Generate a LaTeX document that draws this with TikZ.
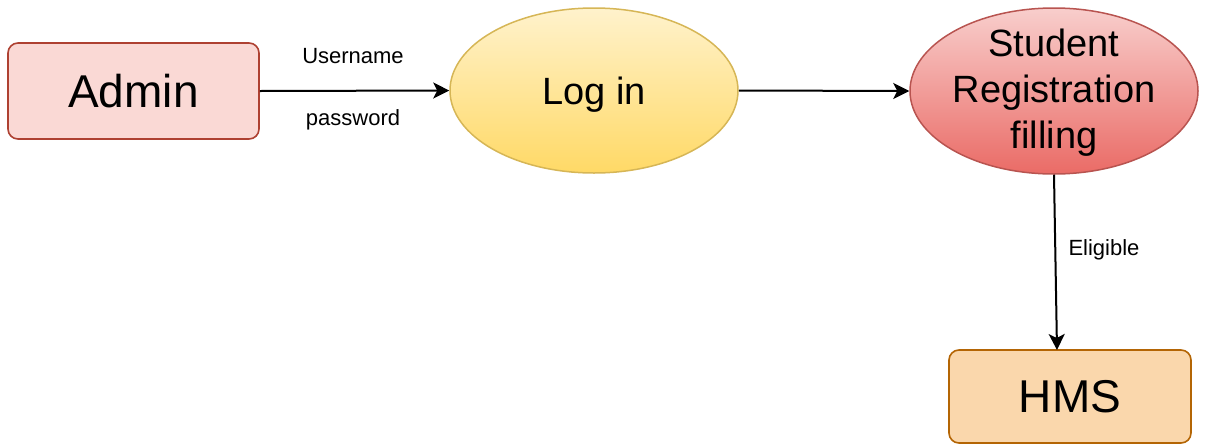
\documentclass[tikz,border=0pt]{standalone}
\usepackage{fontspec}
\setmainfont{Liberation Sans}
\usetikzlibrary{shapes.geometric,arrows.meta}
\definecolor{adminfill}{HTML}{FAD9D5}
\definecolor{adminline}{HTML}{AE4132}
\definecolor{loginTop}{HTML}{FFF2CC}
\definecolor{loginBot}{HTML}{FFD966}
\definecolor{loginline}{HTML}{D6B656}
\definecolor{regTop}{HTML}{F8CECC}
\definecolor{regBot}{HTML}{EA6B66}
\definecolor{regline}{HTML}{B85450}
\definecolor{hmsfill}{HTML}{FAD7AC}
\definecolor{hmsline}{HTML}{B46504}
\begin{document}
\begin{tikzpicture}[x=1pt,y=-1pt,
  box/.style={draw, rounded corners=10pt, line width=1.6pt, inner sep=0pt, font=\fontsize{46}{52}\selectfont},
  oval/.style={ellipse, draw, line width=1.5pt, inner sep=0pt, font=\fontsize{38}{46}\selectfont, align=center},
  flow/.style={line width=2pt, -{Stealth[length=16pt,width=16pt,inset=4pt]}},
  lbl/.style={font=\fontsize{22}{26}\selectfont, anchor=base}]
\useasboundingbox (0,0) rectangle (1208,445);
\node[box, fill=adminfill, draw=adminline, minimum width=251pt, minimum height=96pt] (admin) at (133.5,91) {Admin};
\node[oval, top color=loginTop, bottom color=loginBot, draw=loginline, minimum width=288pt, minimum height=165pt, text depth=0pt] (login) at (594,90.5) {Log in};
\node[oval, top color=regTop, bottom color=regBot, draw=regline, minimum width=288pt, minimum height=166pt,
  label={[font=\fontsize{38}{46}\selectfont, align=center, yshift=-2pt]center:Student\\Registration\\filling}] (reg) at (1054,91) {};
\node[box, fill=hmsfill, draw=hmsline, minimum width=242pt, minimum height=93pt] (hms) at (1070,396.5) {HMS};
\draw[flow] (admin.east) -- (login.west);
\draw[flow] (login.east) -- (reg.west);
\coordinate (hmsin) at (1057,350);
\draw[flow] (reg.south) -- (hmsin);
\node[lbl] (user) at (353,63) {Username};
\node[lbl] (pass) at (353,125) {password};
\node[lbl, anchor=base west] (elig) at (1065,255) {Eligible};
\end{tikzpicture}
\end{document}
